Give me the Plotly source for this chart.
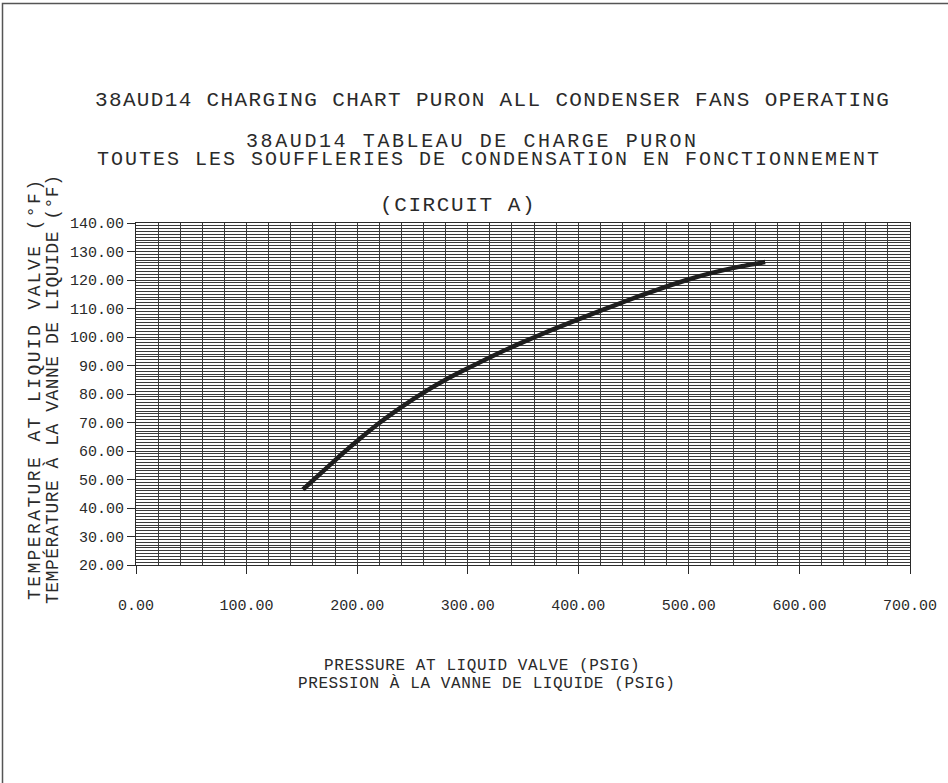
import plotly.graph_objects as go

# ---- data ----
pressure_psig = [151, 170, 185, 200, 220, 240, 260, 280, 300, 325, 350, 375, 400, 422, 445, 470, 498, 520, 545, 569]
liquid_temp_f = [46.5, 53.2, 58.5, 63.5, 69.8, 75.4, 80.5, 85.0, 89.0, 93.8, 98.2, 102.3, 106.2, 109.5, 112.9, 116.4, 120.0, 122.4, 124.6, 126.3]

x_tick_values = [0, 100, 200, 300, 400, 500, 600, 700]
y_tick_values = [20, 30, 40, 50, 60, 70, 80, 90, 100, 110, 120, 130, 140]

title_lines = [
    "38AUD14 CHARGING CHART PURON ALL CONDENSER FANS OPERATING",
    "38AUD14 TABLEAU DE CHARGE PURON",
    "TOUTES LES SOUFFLERIES DE CONDENSATION EN FONCTIONNEMENT",
    "(CIRCUIT A)",
]
x_title_lines = ["PRESSURE AT LIQUID VALVE (PSIG)", "PRESSION À LA VANNE DE LIQUIDE (PSIG)"]
y_title_lines = ["TEMPERATURE AT LIQUID VALVE (°F)", "TEMPÉRATURE À LA VANNE DE LIQUIDE (°F)"]

# ---- layout geometry (window pixels; page margin removed by post_script) ----
W, H = 948, 783
X0, X1, Y0, Y1 = 136, 910, 223, 565   # plot area
L, R, T, B = X0, W - X1, Y0, H - Y1
PW, PH = X1 - X0, Y1 - Y0
FONT = "Liberation Mono"
INK = "#2a2a2a"
GRID = "#3a3a3a"


def px(x):
    return (x - X0) / PW


def py(y):
    return (Y1 - y) / PH


def spaced(text, ls):
    return f'<span style="letter-spacing:{ls}px">{text}</span>'


fig = go.Figure()
fig.add_trace(go.Scatter(
    x=pressure_psig, y=liquid_temp_f, mode="lines",
    line=dict(color="#1e1e1e", width=4.5, shape="spline", smoothing=0.5),
    hoverinfo="x+y", showlegend=False,
))

axis_common = dict(
    showgrid=True, gridcolor=GRID, gridwidth=1,
    ticks="outside", ticklen=8, tickwidth=1, tickcolor=INK,
    showline=True, linecolor=INK, linewidth=1, mirror=True,
    zeroline=False,
    tickfont=dict(family=FONT, size=15, color=INK),
)

fig.update_xaxes(
    range=[0, 700], tickvals=x_tick_values,
    ticktext=[f"{v:.2f}" for v in x_tick_values],
    minor=dict(dtick=20, tick0=0, showgrid=True, gridcolor=GRID, gridwidth=1, ticks=""),
    ticklabelstandoff=18,
    **axis_common,
)
fig.update_yaxes(
    range=[20, 140], tickvals=y_tick_values,
    ticktext=[f"{v:.2f}" for v in y_tick_values],
    minor=dict(dtick=1, tick0=20, showgrid=True, gridcolor=GRID, gridwidth=1, ticks=""),
    **axis_common,
)

annotations = []
# (x centre, y centre, font size, letter spacing)
title_pos = [(492, 100, 21, 1.35), (472, 141, 20, 2.6), (489, 159, 20, 2.0), (458, 206, 21, 1.6)]
for text, (x, y, s, ls) in zip(title_lines, title_pos):
    annotations.append(dict(text=spaced(text, ls), x=px(x), y=py(y), xref="paper", yref="paper",
                            showarrow=False, xanchor="center", yanchor="middle",
                            font=dict(family=FONT, size=s, color=INK)))

x_title_pos = [(482, 666), (486, 683)]
for text, (x, y) in zip(x_title_lines, x_title_pos):
    annotations.append(dict(text=spaced(text, 0.6), x=px(x), y=py(y), xref="paper", yref="paper",
                            showarrow=False, xanchor="center", yanchor="middle",
                            font=dict(family=FONT, size=16, color=INK)))

y_title_pos = [(35, 389, 2.4), (52, 390, 0.5)]
for text, (x, y, ls) in zip(y_title_lines, y_title_pos):
    annotations.append(dict(text=spaced(text, ls), x=px(x), y=py(y), xref="paper", yref="paper",
                            showarrow=False, xanchor="center", yanchor="middle",
                            textangle=-90,
                            font=dict(family=FONT, size=18, color=INK)))

fig.update_layout(
    width=W, height=H,
    margin=dict(l=L, r=R, t=T, b=B),
    paper_bgcolor="white", plot_bgcolor="white",
    annotations=annotations,
    shapes=[dict(type="rect", xref="paper", yref="paper",
                 x0=px(2.5), x1=px(990), y0=py(830), y1=py(3.5),
                 line=dict(color="#555555", width=1.5), layer="above")],
)

fig.write_html(
    "out.html",
    config={"displayModeBar": False},
    post_script="document.body.style.margin='0';document.body.style.overflow='hidden';",
)
